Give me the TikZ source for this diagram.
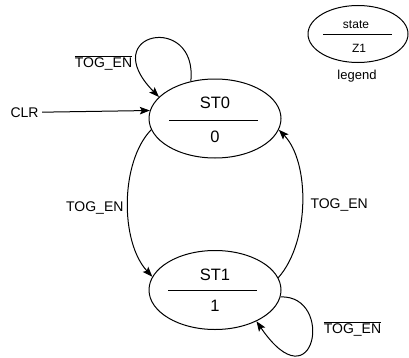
\documentclass[tikz,border=0pt]{standalone}
\usepackage{fontspec}
\setmainfont{Liberation Sans}
\usetikzlibrary{shapes.geometric, arrows.meta, positioning, calc}
\tikzstyle{arrow} = [line width=1pt,-{Stealth[length=10pt,width=7.5pt,inset=2pt]}]

\begin{document}
\begin{tikzpicture}[x=1pt, y=1pt]
\tikzstyle{state} = [ellipse, draw=black, line width=1pt, minimum width=132pt, minimum height=79pt, inner sep=0pt]
\tikzstyle{statename} = [font=\fontsize{16.5}{18}\selectfont]
\tikzstyle{keytext} = [font=\fontsize{12}{14}\selectfont]
\tikzstyle{trans} = [font=\fontsize{14}{16}\selectfont]
\tikzstyle{divider} = [line width=1pt]

\useasboundingbox (0,0) rectangle (409,357);

% states
\node (st0) [state] at (215,238.5) {};
\node (st1) [state] at (215,67) {};
\node (st0name) [statename] at (215,254) {ST0};
\node (st0out) [statename] at (215,220) {0};
\node (st1name) [statename] at (215,82) {ST1};
\node (st1out) [statename] at (215,51) {1};
\draw [divider] (169,237) -- (258,237);
\draw [divider] (168,67) -- (257,67);

% legend
\node (key) [state, minimum width=100pt, minimum height=57pt] at (358,323) {};
\node (keyname) [keytext] at (356,332.5) {state};
\node (keyout) [keytext] at (359,308.5) {Z1};
\draw [divider] (323,322) -- (392,322);
\node (keylabel) [trans, font=\fontsize{13}{15}\selectfont, anchor=base] at (357,277.5) {legend};

% labels
\node (clr) [trans, anchor=base west] at (7,240) {CLR};
\node (togtop) [trans, anchor=base] at (103.5,290) {$\overline{\mbox{TOG\_EN}}$};
\node (togbot) [trans, anchor=base] at (352.5,24) {$\overline{\mbox{TOG\_EN}}$};
\node (togleft) [trans, anchor=base east] at (127,146) {TOG\_EN};
\node (togright) [trans, anchor=base west] at (307,149) {TOG\_EN};

% transitions
\draw [arrow] (clr.east) -- (st0.173);
\draw [arrow] (st0.123) .. controls (198,345) and (95,325) .. (st0.159);
\draw [arrow] (st0.190) .. controls (120,195) and (120,115) .. (st1.168);
\draw [arrow] (st1.11) .. controls (310,115) and (310,195) .. (st0.-10);
\draw [arrow] (st1.-6) .. controls (335,62) and (315,-50) .. (st1.-37);

\end{tikzpicture}
\end{document}
